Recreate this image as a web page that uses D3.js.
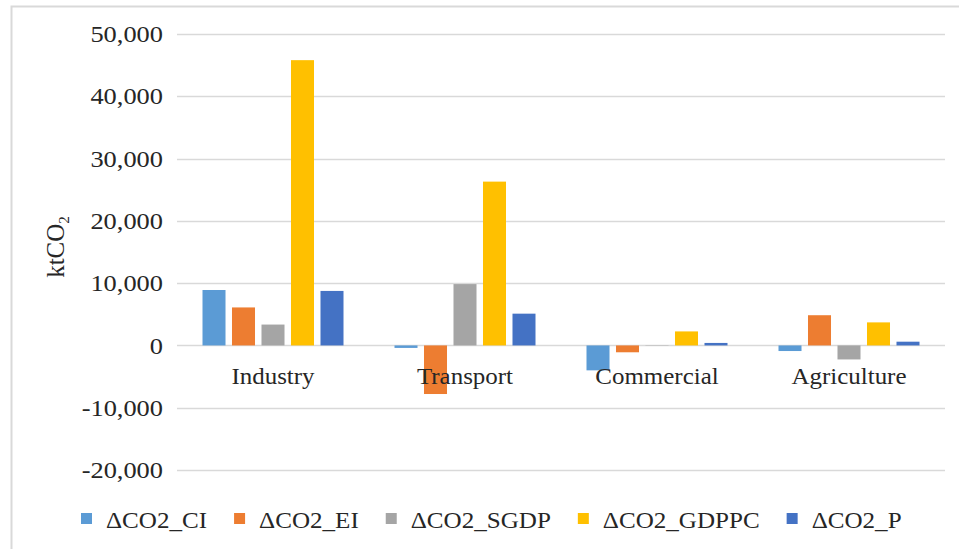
<!DOCTYPE html>
<html>
<head>
<meta charset="utf-8">
<script src="https://cdn.jsdelivr.net/npm/d3@7"></script>
<style>
  body { margin: 0; background: #fff; }
  svg { display: block; font-family: "Liberation Serif", "Times New Roman", serif; }
</style>
</head>
<body>
<svg id="chart" width="959" height="549"></svg>
<script>
const categories = ["Industry", "Transport", "Commercial", "Agriculture"];
const seriesNames = ["\u0394CO2_CI", "\u0394CO2_EI", "\u0394CO2_SGDP", "\u0394CO2_GDPPC", "\u0394CO2_P"];
const valuesCI    = [8900, -400, -4000, -900];
const valuesEI    = [6100, -7800, -1100, 4850];
const valuesSGDP  = [3350, 9850, 50, -2250];
const valuesGDPPC = [45800, 26300, 2250, 3700];
const valuesP     = [8750, 5100, 400, 600];
const yTicks = [-20000, -10000, 0, 10000, 20000, 30000, 40000, 50000];
const colors = ["#5B9BD5", "#ED7D31", "#A5A5A5", "#FFC000", "#4472C4"];

const seriesValues = [valuesCI, valuesEI, valuesSGDP, valuesGDPPC, valuesP];
const textColor = "#262626";
const FONT = "Liberation Serif, Times New Roman, serif";

const svg = d3.select("#chart");
const plot = { left: 177, right: 945, top: 34, bottom: 470 };

// chart border
svg.append("rect")
  .attr("x", 11.5).attr("y", 6.5)
  .attr("width", 1000).attr("height", 600)
  .attr("fill", "#fff").attr("stroke", "#d9d9d9").attr("stroke-width", 2);

const x0 = d3.scaleBand().domain(categories).range([plot.left, plot.right]).padding(0);
const x1 = d3.scaleBand().domain(seriesNames)
  .range([25.5, x0.bandwidth() - 25.5]).paddingInner(0.22).paddingOuter(0);
const y = d3.scaleLinear().domain([-20000, 50000]).range([plot.bottom, plot.top]);
const color = d3.scaleOrdinal().domain(seriesNames).range(colors);

// gridlines
svg.append("g").selectAll("line").data(yTicks).join("line")
  .attr("x1", plot.left).attr("x2", plot.right)
  .attr("y1", d => Math.round(y(d)) + 0.5).attr("y2", d => Math.round(y(d)) + 0.5)
  .attr("stroke", "#d9d9d9").attr("stroke-width", 1.5);

// y axis labels
const fmt = d3.format(",");
const yAxis = d3.axisLeft(y).tickValues(yTicks).tickSize(0).tickPadding(14)
  .tickFormat(d => fmt(d).replace("\u2212", "-"));
const ya = svg.append("g").attr("transform", `translate(${plot.left},0)`).call(yAxis)
  .attr("font-family", FONT);
ya.select(".domain").remove();
ya.selectAll(".tick text")
  .attr("font-family", FONT)
  .attr("font-size", 24).attr("fill", textColor)
  .attr("transform", "scale(1.1,1)")
  .attr("x", -14 / 1.1);

// bars
const rows = categories.map((c, i) => ({ cat: c, vals: seriesNames.map((s, j) => ({ s, v: seriesValues[j][i] })) }));
const groups = svg.append("g").selectAll("g").data(rows).join("g")
  .attr("transform", d => `translate(${x0(d.cat)},0)`);
groups.selectAll("rect").data(d => d.vals).join("rect")
  .attr("x", d => x1(d.s))
  .attr("width", x1.bandwidth())
  .attr("y", d => Math.min(y(d.v), y(0)))
  .attr("height", d => Math.abs(y(d.v) - y(0)))
  .attr("fill", d => color(d.s));

// category labels
svg.append("g").selectAll("text").data(categories).join("text")
  .attr("transform", d => `translate(${x0(d) + x0.bandwidth() / 2},${y(0) + 39}) scale(1.04,1)`)
  .attr("text-anchor", "middle")
  .attr("font-family", FONT)
  .attr("font-size", 24).attr("fill", textColor)
  .text(d => d);

// y axis title
const title = svg.append("text")
  .attr("transform", `translate(64,${(plot.top + plot.bottom) / 2 - 5}) rotate(-90)`)
  .attr("text-anchor", "middle")
  .attr("font-family", FONT)
  .attr("font-size", 25).attr("fill", textColor);
title.append("tspan").text("ktCO");
title.append("tspan").attr("font-size", 15).attr("dy", 5).text("2");

// legend
const legend = svg.append("g").attr("transform", "translate(81,0)");
const sx = 1.045;
let lx = 0;
seriesNames.forEach((s) => {
  const g = legend.append("g").attr("transform", `translate(${lx},0)`);
  g.append("rect").attr("x", 0).attr("y", 513).attr("width", 11).attr("height", 11).attr("fill", color(s));
  const t = g.append("text").attr("transform", `translate(25,528) scale(${sx},1)`)
    .attr("font-family", FONT)
    .attr("font-size", 24).attr("fill", textColor).text(s);
  const w = t.node().getComputedTextLength() * sx;
  lx += 25 + w + 27;
});
</script>
</body>
</html>
